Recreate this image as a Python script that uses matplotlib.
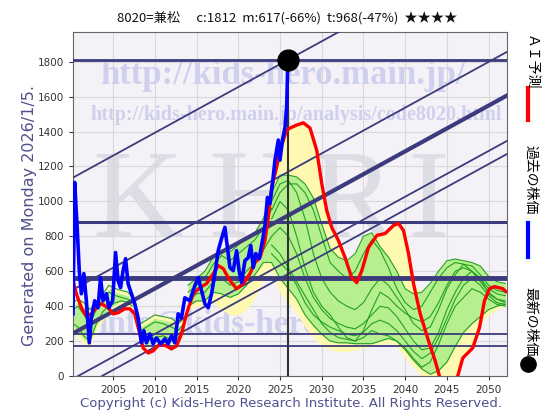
import numpy as np
import matplotlib
matplotlib.use("Agg")
import matplotlib.pyplot as plt
from matplotlib.lines import Line2D

# --- DATA ---
title = "8020=兼松　 c:1812  m:617(-66%)  t:968(-47%)  ★★★★"
now_year = 2026.0
now_price = 1812

# past stock price (blue)
blue_x = [2000.2, 2000.4, 2000.7, 2000.95, 2001.2, 2001.5, 2001.8, 2002.15, 2002.4, 2002.8,
          2003.2, 2003.5, 2003.8, 2004.2, 2004.5, 2004.95, 2005.3, 2005.6, 2005.9, 2006.2,
          2006.5, 2006.8, 2007.2, 2007.6, 2008.0, 2008.4, 2008.7, 2009.0, 2009.4, 2009.8,
          2010.2, 2010.7, 2011.2, 2011.6, 2012.0, 2012.4, 2012.8, 2013.2, 2013.6, 2014.2,
          2014.8, 2015.2, 2015.6, 2016.0, 2016.4, 2016.8, 2017.2, 2017.6, 2018.0, 2018.4,
          2018.7, 2019.0, 2019.4, 2019.8, 2020.1, 2020.4, 2020.8, 2021.2, 2021.5, 2021.8,
          2022.1, 2022.5, 2022.9, 2023.2, 2023.5, 2023.8, 2024.1, 2024.4, 2024.8, 2025.0,
          2025.3, 2025.6, 2025.8, 2025.9, 2026.0]
blue_v = [356, 1109, 851, 603, 471, 586, 431, 190, 333, 431,
          391, 563, 431, 471, 391, 431, 707, 546, 506, 603,
          672, 529, 471, 414, 333, 190, 259, 190, 241, 184,
          218, 184, 213, 184, 230, 190, 356, 333, 448, 431,
          517, 563, 489, 414, 391, 471, 586, 718, 787, 851,
          736, 621, 603, 718, 603, 535, 661, 678, 747, 621,
          701, 672, 776, 862, 1023, 988, 1103, 1236, 1351, 1236,
          1351, 1425, 1540, 1736, 1812]

# AI prediction (red)
red_x = [2000.2, 2000.6, 2001.2, 2001.8, 2002.4, 2003.0, 2003.6, 2004.4, 2005.0, 2005.6,
         2006.4, 2007.0, 2007.6, 2008.2, 2008.6, 2009.2, 2009.8, 2010.6, 2011.4, 2012.0,
         2012.6, 2013.2, 2013.8, 2014.6, 2015.4, 2016.2, 2017.0, 2017.6, 2018.2, 2019.0,
         2019.8, 2020.6, 2021.4, 2022.0, 2022.6, 2023.2, 2023.6, 2024.0, 2024.6, 2025.0,
         2025.8, 2026.2, 2027.0, 2027.8, 2028.6, 2029.4, 2030.0, 2030.6, 2031.2, 2032.0,
         2032.8, 2033.6, 2034.2, 2034.8, 2035.6, 2036.6, 2037.6, 2038.6, 2039.2, 2039.8,
         2040.4, 2041.0, 2041.8, 2042.8, 2043.6, 2044.1, 2045.2, 2046.3, 2046.9, 2048.1,
         2048.9, 2049.5, 2050.1, 2050.7, 2051.7, 2052.2]
red_v = [546, 471, 391, 345, 356, 391, 414, 391, 356, 362,
         385, 385, 356, 241, 161, 132, 144, 184, 172, 155,
         172, 241, 356, 470, 506, 529, 586, 632, 615, 546,
         500, 529, 586, 650, 678, 776, 908, 1080, 1195, 1293,
         1408, 1420, 1437, 1450, 1420, 1293, 1103, 948, 851, 776,
         678, 563, 535, 603, 736, 805, 816, 862, 874, 833,
         701, 529, 356, 201, 86, 0, -150, 0, 103, 161,
         276, 431, 500, 512, 500, 477]

# main forecast band 2014-2052
band_x = np.arange(2014, 2053)
green_hi = [520, 560, 600, 680, 720, 710, 750, 790, 820, 900,
            1050, 1150, 1150, 1140, 1100, 1020, 870, 730, 680, 660,
            700, 800, 820, 740, 680, 600, 500, 470, 480, 530,
            600, 660, 670, 660, 650, 630, 570, 540, 530]
green_lo = [400, 430, 430, 480, 470, 450, 470, 520, 580, 650,
            650, 560, 500, 440, 350, 290, 240, 200, 190, 190,
            185, 185, 185, 200, 215, 200, 150, 90, 40, 10,
            30, 80, 170, 250, 300, 340, 380, 400, 410]
yellow_lo = [380, 400, 400, 420, 380, 350, 350, 380, 450, 550,
             600, 480, 420, 360, 280, 220, 170, 150, 140, 140,
             150, 160, 170, 180, 190, 170, 110, 50, 0, 0,
             0, 0, 0, 100, 200, 300, 350, 380, 400]

# future forecast lines 2024-2052
fut_x = np.arange(2024, 2053)
g1 = [900, 1000, 950, 800, 620, 480, 400, 350, 280, 220, 200, 260, 380, 480, 450,
      400, 360, 330, 310, 340, 420, 520, 600, 620, 600, 560, 500, 470, 460]
g2 = [1000, 1100, 1120, 1050, 900, 700, 560, 480, 430, 400, 380, 420, 500, 560, 520,
      450, 380, 300, 260, 280, 380, 500, 580, 640, 630, 580, 520, 490, 480]
g3 = [800, 850, 800, 700, 560, 450, 380, 330, 300, 280, 270, 300, 350, 400, 390,
      340, 270, 200, 150, 160, 250, 380, 480, 560, 600, 560, 470, 440, 420]
g4 = [950, 1050, 1100, 1100, 1050, 950, 800, 650, 600, 560, 600, 700, 780, 720, 620,
      500, 420, 380, 400, 480, 560, 620, 650, 640, 600, 540, 480, 440, 430]
g5 = [750, 700, 620, 540, 460, 380, 300, 250, 220, 210, 200, 220, 260, 240, 230,
      200, 160, 100, 50, 80, 180, 300, 400, 450, 500, 480, 440, 410, 400]
g6 = [700, 650, 600, 520, 420, 350, 310, 280, 260, 240, 230, 250, 300, 320, 300,
      260, 200, 140, 100, 130, 220, 330, 440, 520, 560, 520, 460, 420, 410]

# past forecast lines 2014-2024
pm_x = [2014, 2015, 2016, 2017, 2018, 2019, 2020, 2021, 2022, 2023, 2024]
pm_a = [480, 520, 560, 640, 690, 660, 700, 740, 780, 850, 960]
pm_b = [430, 470, 480, 540, 560, 520, 540, 600, 650, 720, 800]

# older forecast bands
s1_x = [2000.2, 2000.8, 2001.5, 2002.2, 2003, 2003.8, 2004.5, 2005.3, 2006, 2006.8, 2007.3]
s1_hi = [420, 440, 420, 380, 420, 470, 520, 500, 490, 480, 450]
s1_lo = [260, 220, 180, 160, 260, 320, 350, 380, 400, 390, 380]
s1_a = [380, 400, 350, 300, 380, 430, 480, 460, 450, 440, 420]
s1_b = [300, 280, 230, 200, 300, 370, 400, 420, 430, 420, 400]

s2_x = [2008.3, 2009, 2010, 2011, 2012, 2012.8, 2013.5]
s2_hi = [300, 320, 350, 340, 330, 300, 330]
s2_lo = [170, 160, 170, 180, 170, 180, 260]
s2_a = [260, 280, 310, 300, 280, 260, 300]
s2_b = [200, 200, 220, 230, 210, 220, 280]

# reference lines
hlines = [1812, 880, 560, 240, 170]
hline_w = [2.0, 2.2, 3.5, 1.3, 1.3]
trend_at_now = [1812, 1170, 920, 660, 585]
trend_w = [1.3, 1.3, 3.0, 1.3, 1.3]
trend_slope = 26.2

# --- PLOT ---
W, H = 560, 420
fig = plt.figure(figsize=(5.6, 4.2), dpi=100)
ax = fig.add_axes([73 / W, 1 - 376 / H, 434 / W, 344 / H])
ax.set_facecolor("#f5f2f7")
ax.set_xlim(2000.2, 2052.2)
ax.set_ylim(0, 1970)
ax.set_xticks(range(2005, 2051, 5))
ax.set_yticks(range(0, 1801, 200))
ax.tick_params(labelsize=7.5, length=3, colors="#333333")
ax.grid(color="#d9d9d9", lw=0.8, zorder=0)
ax.set_axisbelow(True)
for s in ax.spines.values():
    s.set_color("#666666")
    s.set_linewidth(0.8)

navy = "#3b3b7d"
wm = "#cfcfee"

# watermarks
def px(x, y):
    return x / W, 1 - y / H

ax.text(*px(283, 76), "http://kids-hero.main.jp/", transform=fig.transFigure,
        ha="center", va="center", fontsize=25, fontweight="bold",
        family="Liberation Serif", color=wm, zorder=0.6)
ax.text(*px(296, 115), "http://kids-hero.main.jp/analysis/code8020.html",
        transform=fig.transFigure, ha="center", va="center", fontsize=14.5,
        fontweight="bold", family="Liberation Serif", color=wm, zorder=0.6)
for ch, cx in zip("KHRI", [137, 253, 352, 428]):
    ax.text(*px(cx, 206), ch, transform=fig.transFigure, ha="center", va="center",
            fontsize=90, family="Liberation Serif", color="#dddde6", zorder=0.5)
ax.text(*px(98, 325), "info@kids-hero.main.jp", transform=fig.transFigure,
        ha="left", va="center", fontsize=24, fontweight="bold",
        family="Liberation Serif", color=wm, zorder=0.6)

# forecast bands
red_i = np.interp(band_x, red_x, red_v)
ax.fill_between(band_x, np.minimum(yellow_lo, red_i), np.maximum(green_hi, red_i),
                color="#fff8b0", lw=0, zorder=1)
ax.fill_between(band_x, green_lo, green_hi, color="#b6f08e", lw=0, zorder=1.5)
ax.fill_between(s1_x, s1_lo, s1_hi, color="#fff8b0", lw=0, zorder=1)
ax.fill_between(s1_x, np.array(s1_lo) + 30, np.array(s1_hi) - 20, color="#b6f08e", lw=0, zorder=1.5)
ax.fill_between(s2_x, s2_lo, s2_hi, color="#fff8b0", lw=0, zorder=1)
ax.fill_between(s2_x, np.array(s2_lo) + 20, np.array(s2_hi) - 20, color="#b6f08e", lw=0, zorder=1.5)

gc = "#22a022"
for g in [g1, g2, g3, g4, g5, g6]:
    ax.plot(fut_x, g, color=gc, lw=0.8, zorder=2)
for xs, ys in [(pm_x, pm_a), (pm_x, pm_b), (s1_x, s1_a), (s1_x, s1_b),
               (s1_x, s1_hi), (s2_x, s2_a), (s2_x, s2_b), (s2_x, s2_hi),
               (band_x, green_hi), (band_x, green_lo)]:
    ax.plot(xs, ys, color=gc, lw=0.8, zorder=2)

# reference lines
for v, w in zip(hlines, hline_w):
    ax.axhline(v, color=navy, lw=w, zorder=3)
for v, w in zip(trend_at_now, trend_w):
    ax.axline((now_year, v), slope=trend_slope, color=navy, lw=w, zorder=3)
ax.plot([now_year, now_year], [0, now_price], color="#333333", lw=1.5, zorder=3)

# prices
ax.plot(red_x, red_v, color="#ff0000", lw=2.4, zorder=4, solid_capstyle="butt")
ax.plot(blue_x, blue_v, color="#111111", lw=0.8, zorder=4.5)
ax.plot(blue_x, blue_v, color="#0000ff", lw=2.6, zorder=5)
ax.plot([now_year], [now_price], "o", color="black", ms=15, zorder=6, clip_on=False)

# texts
jp = ["Noto Sans CJK JP", "DejaVu Sans"]
fig.text(0.512, 1 - 18 / H, title, ha="center", va="center", fontsize=9.5,
         family=jp, color="#111111")
fig.text(*px(30, 215), "Generated on Monday 2026/1/5.", rotation=90,
         ha="center", va="center", fontsize=11.5, color="#50508c")
fig.text(*px(291, 404), "Copyright (c) Kids-Hero Research Institute. All Rights Reserved.",
         ha="center", va="center", fontsize=9.5, color="#50508c")

lx = 528
fig.text(*px(lx + 3, 35), "ＡＩ予測", rotation=-90, ha="center", va="top",
         fontsize=10, family=jp)
fig.add_artist(Line2D([lx / W, lx / W], [1 - 88 / H, 1 - 120 / H], color="#ff0000",
                      lw=3, transform=fig.transFigure))
fig.text(*px(lx + 3, 145), "過去の株価", rotation=-90, ha="center", va="top",
         fontsize=10, family=jp)
fig.add_artist(Line2D([lx / W, lx / W], [1 - 223 / H, 1 - 257 / H], color="#0000ff",
                      lw=3, transform=fig.transFigure))
fig.text(*px(lx + 3, 287), "最新の株価", rotation=-90, ha="center", va="top",
         fontsize=10, family=jp)
fig.add_artist(Line2D([lx / W], [1 - 364 / H], marker="o", color="black", ms=11,
                      transform=fig.transFigure))

fig.savefig("out.png", dpi=100)
